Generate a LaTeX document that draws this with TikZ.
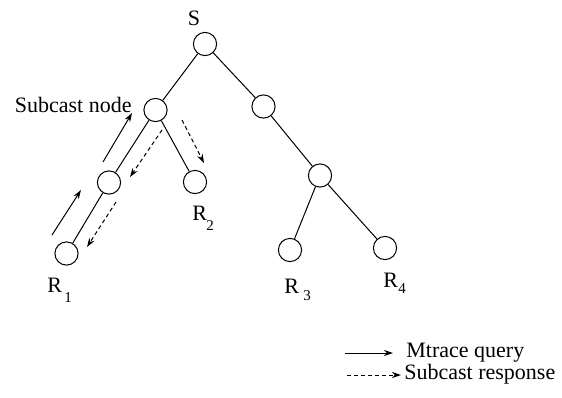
\documentclass[tikz,border=0pt]{standalone}
\usepackage{fontspec}
\setmainfont{Liberation Serif}
\usetikzlibrary{arrows.meta}
\tikzset{
  px/.style={x=0.5pt,y=-0.5pt},
  vtx/.style={draw,circle,minimum size=11.6pt,inner sep=0pt,line width=0.5pt},
  edge/.style={line width=0.5pt},
  query/.style={line width=0.5pt,-{Stealth[length=4.5pt,width=3pt]}},
  resp/.style={line width=0.5pt,dash pattern=on 2pt off 1.5pt,-{Stealth[length=4.5pt,width=3pt]}},
  lbl/.style={inner sep=0pt,font=\fontsize{11}{13}\selectfont},
  sub/.style={inner sep=0pt,font=\fontsize{7.5}{9}\selectfont}
}
\begin{document}
\begin{tikzpicture}[px]
\useasboundingbox (0,0) rectangle (562,397);
% nodes
\node[vtx] (S) at (205,44) {};
\node[vtx] (A) at (155.5,110) {};
\node[vtx] (B) at (263.5,106.5) {};
\node[vtx] (C) at (109,182.5) {};
\node[vtx] (R2) at (195,182) {};
\node[vtx] (R1) at (66.5,253.5) {};
\node[vtx] (D) at (320,175.5) {};
\node[vtx] (R3) at (290,250) {};
\node[vtx] (R4) at (385,248) {};
% edges
\draw[edge] (S) -- (A);
\draw[edge] (S) -- (B);
\draw[edge] (A) -- (C);
\draw[edge] (A) -- (R2);
\draw[edge] (C) -- (R1);
\draw[edge] (B) -- (D);
\draw[edge] (D) -- (R3);
\draw[edge] (D) -- (R4);
% labels
\node[lbl,anchor=base] (lS) at (194,25) {S};
\node[lbl,anchor=base east] (lA) at (132,112) {Subcast node};
\node[lbl,anchor=base west] (lR1) at (47,292) {R};
\node[sub,anchor=base west] (sR1) at (64,302) {1};
\node[lbl,anchor=base west] (lR2) at (192,220) {R};
\node[sub,anchor=base west] (sR2) at (206,230) {2};
\node[lbl,anchor=base west] (lR3) at (284,293) {R};
\node[sub,anchor=base west] (sR3) at (303,300) {3};
\node[lbl,anchor=base west] (lR4) at (383,287) {R};
\node[sub,anchor=base west] (sR4) at (398,293) {4};
% message arrows
\coordinate (q1s) at (52,235); \coordinate (q1e) at (81,190);
\coordinate (q2s) at (103,162); \coordinate (q2e) at (132,113);
\coordinate (r1s) at (162,130); \coordinate (r1e) at (130,177);
\coordinate (r2s) at (116,202); \coordinate (r2e) at (87,247);
\coordinate (r3s) at (182,120); \coordinate (r3e) at (204,163);
\draw[query] (q1s) -- (q1e);
\draw[query] (q2s) -- (q2e);
\draw[resp] (r1s) -- (r1e);
\draw[resp] (r2s) -- (r2e);
\draw[resp] (r3s) -- (r3e);
% legend
\coordinate (l1s) at (345,353); \coordinate (l1e) at (393,353);
\coordinate (l2s) at (347,375); \coordinate (l2e) at (401,375);
\draw[query] (l1s) -- (l1e);
\draw[resp] (l2s) -- (l2e);
\node[lbl,anchor=base west] (t1) at (406,357) {Mtrace query};
\node[lbl,anchor=base west] (t2) at (404,379) {Subcast response};
\end{tikzpicture}
\end{document}
